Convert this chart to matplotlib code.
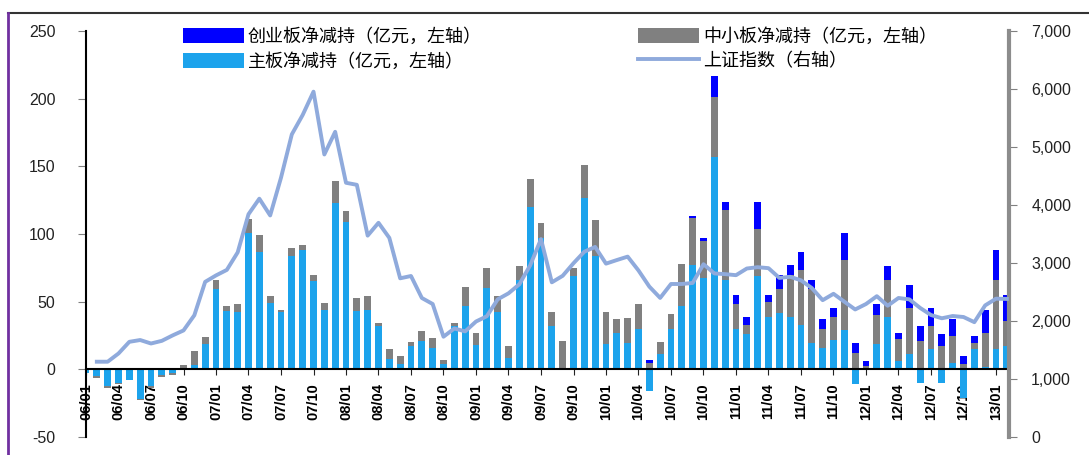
import numpy as np
import matplotlib.pyplot as plt
from matplotlib.lines import Line2D
from matplotlib.patches import Patch
from matplotlib.ticker import FuncFormatter

plt.rcParams['font.family'] = ['Liberation Sans', 'DejaVu Sans']
plt.rcParams['axes.unicode_minus'] = False

# monthly data, 2006/01 .. 2013/02
main_board = [-3, -5, -12, -10, -8, -22, -12, -4, -3, 1,
              3, 19, 59, 43, 42, 101, 87, 49, 42, 83.5,
              88, 65, 44, 123, 109, 43, 44, 32, 7.4, 3.7,
              17, 21, 16, 4, 32, 47, 18, 60, 42, 8.6,
              66, 120, 97, 32, 0.5, 69, 126.5, 83.5, 18.4, 27,
              19.6, 29.5, -16, 11, 29.5, 46.7, 77, 67.5, 157, 66,
              29.5, 26, 68.7, 39, 41.8, 39, 33, 19.6, 16, 22,
              29, -11, 0.5, 18.4, 39, 6, 11, -10, 14.7, -10,
              5, -21, 14.7, 2, 14.7, 17]
sme_board = [0, -1.5, -2, -1, 0, -1, -2, -1.5, -1, 2.5,
             10.5, 4.8, 7, 3.7, 6, 10, 12.5, 5, 2, 6,
             4, 5, 5, 16, 8, 10, 10, 2.6, 7.3, 6,
             3, 7, 7, 3, 2, 14, 9, 15, 12, 8.4,
             10, 21, 11, 10.5, 20.5, 6, 24.5, 27, 24, 10,
             18.4, 19, 5, 9, 11.5, 31.3, 35, 27, 44, 52,
             18.5, 7, 35.3, 11, 17.2, 31, 40.7, 39.4, 13.5, 17,
             52, 12.3, 2, 22.1, 27, 16.6, 34, 21, 17.3, 17,
             19.6, 3.7, 4.9, 25, 51.3, 18.6]
chinext = [0] * 45 + [0, -0.5, -0.5, -0.5, -0.5,
                      -0.5, -0.5, 2, -0.5, -0.5, -0.5, 1.5, 2.5, 16, 6,
                      7, 6, 20, 5, 11, 7.4, 13.3, 7, 7.5, 6,
                      20, 7.3, 3.5, 7.5, 10, 4.4, 17.6, 11, 13, 9,
                      12.4, 6, 5, 17, 22.4, 19.4]
sh_index = [np.nan, 1298, 1298, 1440, 1641, 1672, 1612, 1658, 1752, 1837,
            2099, 2675, 2786, 2881, 3183, 3841, 4109, 3820, 4471, 5218,
            5552, 5954, 4871, 5262, 4383, 4348, 3472, 3693, 3433, 2736,
            2776, 2397, 2293, 1729, 1871, 1821, 1991, 2082, 2373, 2477,
            2633, 2959, 3412, 2667, 2779, 2996, 3195, 3277, 2989, 3051,
            3110, 2871, 2593, 2398, 2638, 2638, 2656, 2979, 2820, 2808,
            2790, 2905, 2928, 2911, 2743, 2762, 2701, 2568, 2359, 2469,
            2333, 2199, 2293, 2428, 2263, 2397, 2373, 2225, 2103, 2047,
            2086, 2069, 1980, 2269, 2385, 2380]
tick_labels = ['06/01', '06/04', '06/07', '06/10', '07/01', '07/04', '07/07', '07/10',
               '08/01', '08/04', '08/07', '08/10', '09/01', '09/04', '09/07', '09/10',
               '10/01', '10/04', '10/07', '10/10', '11/01', '11/04', '11/07', '11/10',
               '12/01', '12/04', '12/07', '12/10', '13/01']

names = ['主板净减持（亿元，左轴）', '中小板净减持（亿元，左轴）', '创业板净减持（亿元，左轴）', '上证指数（右轴）']
c_main = '#1ca3ec'
c_sme = '#808080'
c_cy = '#0000ff'
c_line = '#8faadc'

W, H = 1089, 455
fig = plt.figure(figsize=(W / 100, H / 100), dpi=100)
ax = fig.add_axes([86 / W, 1 - 437 / H, (1009 - 86) / W, (437 - 31) / H])

x = np.arange(len(main_board))
pos = np.zeros(len(x))
neg = np.zeros(len(x))
for vals, col in [(main_board, c_main), (sme_board, c_sme), (chinext, c_cy)]:
    v = np.array(vals, dtype=float)
    bottom = np.where(v >= 0, pos, neg)
    ax.bar(x, v, bottom=bottom, width=0.62, color=col, zorder=2)
    pos = pos + np.clip(v, 0, None)
    neg = neg + np.clip(v, None, 0)

ax.spines['bottom'].set_position(('data', 0))
ax.spines['bottom'].set_linewidth(1.5)
ax.spines['left'].set_linewidth(1.5)
ax.spines['top'].set_visible(False)
ax.spines['right'].set_visible(False)
ax.set_xlim(0, 85.2)
ax.set_ylim(-50, 250)
ax.set_yticks(range(-50, 251, 50))
ax.set_xticks(range(0, 85, 3))
ax.set_xticklabels(tick_labels, rotation=90, fontsize=10.5, fontweight='bold')
ax.tick_params(axis='y', direction='out', length=6, color='#808080', pad=16,
               labelsize=11.5, labelcolor='#222222')
ax.tick_params(axis='x', direction='out', length=4, color='#222222', pad=6)

ax2 = ax.twinx()
ax2.plot(x, sh_index, color=c_line, lw=2.8, zorder=3)
ax2.set_ylim(0, 7000)
ax2.set_yticks(range(0, 7001, 1000))
ax2.yaxis.set_major_formatter(FuncFormatter(lambda v, p: f'{int(v):,}'))
for s in ['left', 'top', 'bottom']:
    ax2.spines[s].set_visible(False)
ax2.spines['right'].set_color('#8c8c8c')
ax2.spines['right'].set_linewidth(3)
ax2.tick_params(axis='y', direction='out', length=6, color='#808080', pad=10,
                labelsize=11.5, labelcolor='#222222')

cjk = ['Noto Sans CJK SC', 'DejaVu Sans']
leg_kw = dict(frameon=False, prop={'family': cjk, 'size': 13}, handlelength=3.4,
              handleheight=0.9, handletextpad=0.2, labelspacing=0.35, borderpad=0,
              borderaxespad=0, loc='upper left')
h_cy = Patch(facecolor=c_cy, edgecolor='none')
h_main = Patch(facecolor=c_main, edgecolor='none')
h_sme = Patch(facecolor=c_sme, edgecolor='none')
h_line = Line2D([], [], color=c_line, lw=2.8)
leg1 = fig.legend([h_cy, h_main], [names[2], names[0]], bbox_to_anchor=(183 / W, 1 - 28 / H), **leg_kw)
leg2 = fig.legend([h_sme, h_line], [names[1], names[3]], bbox_to_anchor=(638 / W, 1 - 28 / H), **leg_kw)

# outer frame
fig.add_artist(Line2D([8 / W, 1], [1 - 13 / H, 1 - 13 / H], transform=fig.transFigure, color='#333333', lw=1.5))
fig.add_artist(Line2D([8 / W, 8 / W], [0, 1 - 13 / H], transform=fig.transFigure, color='#7030a0', lw=2))

fig.savefig('out.png', dpi=100)
